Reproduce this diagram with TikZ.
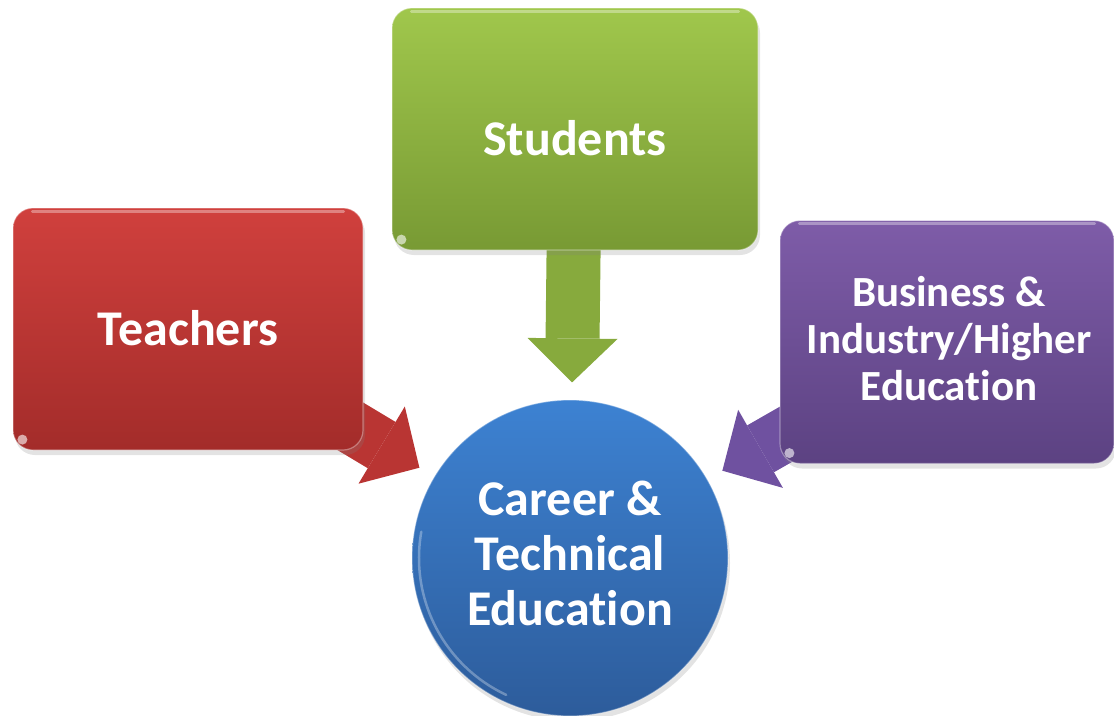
\documentclass[tikz,border=0pt]{standalone}
\usepackage{fontspec}
\setmainfont{Carlito}[Ligatures=NoCommon]
\usetikzlibrary{arrows.meta,shadows,backgrounds}
\definecolor{redTop}{HTML}{D0403D}
\definecolor{redBot}{HTML}{A32C2A}
\definecolor{redArr}{HTML}{B93533}
\definecolor{grnTop}{HTML}{A0C74C}
\definecolor{grnBot}{HTML}{789A34}
\definecolor{grnArr}{HTML}{87AA3D}
\definecolor{purTop}{HTML}{7E5CA8}
\definecolor{purBot}{HTML}{5C4282}
\definecolor{purArr}{HTML}{6F51A0}
\definecolor{bluTop}{HTML}{3D82D2}
\definecolor{bluBot}{HTML}{2D5C9B}
\begin{document}
\begin{tikzpicture}[x=1pt,y=-1pt,
  box/.style={rectangle, rounded corners=20pt,
    draw=white, draw opacity=0.35, line width=1.2pt,
    drop shadow={opacity=0.22, shadow xshift=2pt, shadow yshift=-5pt}},
  lbl/.style={text=white, align=center, inner sep=0pt},
  bigfont/.style={font=\bfseries\fontsize{50}{60}\selectfont},
  midfont/.style={font=\bfseries\fontsize{43}{47}\selectfont},
  hubfont/.style={font=\bfseries\fontsize{50}{55}\selectfont},
  hub/.style={circle, minimum size=316pt, inner sep=0pt,
    top color=bluTop, bottom color=bluBot, draw=white, draw opacity=0.35, line width=1.2pt,
    drop shadow={opacity=0.22, shadow xshift=2pt, shadow yshift=-5pt}},
  gloss/.style={white, opacity=0.35, line width=3pt, line cap=round},
  spot/.style={white, opacity=0.6},
  blockarrow/.style={line width=54pt, line cap=butt, shorten >=17pt,
    -{Triangle[length=44pt,width=90pt,line width=0pt]}}
]
\useasboundingbox (0,0) rectangle (1114,715);

% boxes
\node[box, minimum width=350pt, minimum height=242pt,
  top color=redTop, bottom color=redBot] (teach) at (188,329) {};
\node[box, minimum width=366pt, minimum height=242pt,
  top color=grnTop, bottom color=grnBot] (stud) at (575,129) {};
\node[box, minimum width=334pt, minimum height=243pt,
  top color=purTop, bottom color=purBot] (biz) at (947,342) {};
\node[hub] (circ) at (570,558) {};

% gloss highlights
\foreach \b in {teach,stud,biz}{
  \draw[gloss] ([xshift=20pt,yshift=-4pt]\b.north west) -- ([xshift=-20pt,yshift=-4pt]\b.north east);
  \fill[spot] ([xshift=10pt,yshift=11pt]\b.south west) circle (5pt);
}
\draw[white, opacity=0.3, line width=2.5pt, line cap=round] (circ.center) ++(115:151) arc (115:190:151);

% labels
\node[lbl, bigfont] (teachtxt) at (188,328) {Teachers};
\node[lbl, bigfont] (studtxt) at (575,138) {Students};
\node[lbl, midfont] (biztxt) at (949,339) {Business \&\\Industry/Higher\\Education};
\node[lbl, hubfont] (circtxt) at (570,553) {Career \&\\Technical\\Education};

% arrows
\begin{pgfonlayer}{background}
  \draw[blockarrow, draw=redArr] (teach.center) -- (circ);
  \draw[blockarrow, draw=grnArr] (stud.center) -- (circ);
  \draw[blockarrow, draw=purArr] (biz.center) -- (circ);
\end{pgfonlayer}
\end{tikzpicture}
\end{document}
